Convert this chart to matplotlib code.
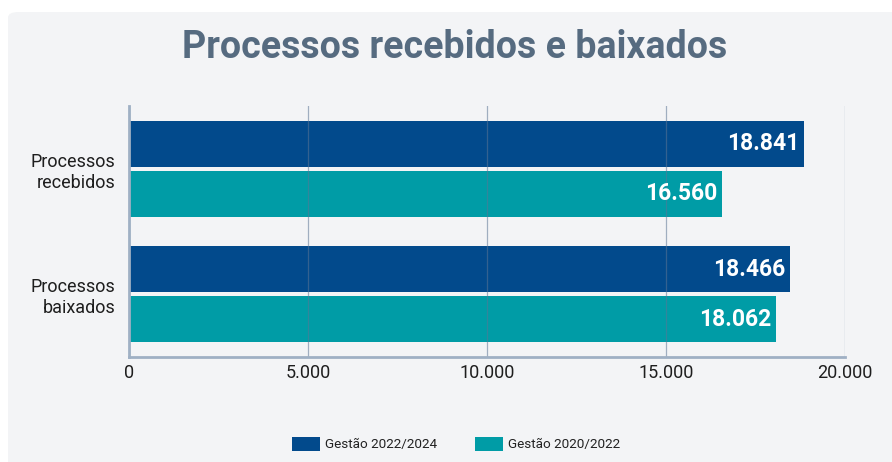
import matplotlib.pyplot as plt
from matplotlib.patches import FancyBboxPatch, Patch
import numpy as np

categories = ['Processos\nrecebidos', 'Processos\nbaixados']
gestao_2022_2024 = [18841, 18466]
gestao_2020_2022 = [16560, 18062]
series_names = ['Gestão 2022/2024', 'Gestão 2020/2022']
xticks = [0, 5000, 10000, 15000, 20000]

dark_blue = '#024a8c'
teal = '#009ca6'
panel = '#f3f4f6'

plt.rcParams['font.family'] = ['Roboto', 'DejaVu Sans']

fig = plt.figure(figsize=(8.92, 4.62), dpi=100)
fig.patch.set_facecolor('white')

# light grey card behind everything
card = FancyBboxPatch((8 / 892, -0.1), 1.2, (450 / 462) + 0.1,
                      boxstyle='round,pad=0,rounding_size=0.012',
                      transform=fig.transFigure, facecolor=panel,
                      edgecolor='none', zorder=-10)
fig.patches.append(card)

ax = fig.add_axes([129 / 892, 1 - 357 / 462, (845 - 129) / 892, (357 - 106) / 462])
ax.set_facecolor(panel)

y = np.arange(len(categories))
h = 0.367
ax.barh(y - 0.2, gestao_2022_2024, height=h, color=dark_blue, zorder=2)
ax.barh(y + 0.2, gestao_2020_2022, height=h, color=teal, zorder=2)

def fmt(v):
    return f'{v:,}'.replace(',', '.')

for vals, off in [(gestao_2022_2024, -0.2), (gestao_2020_2022, 0.2)]:
    for i, v in enumerate(vals):
        ax.text(v - 120, i + off, fmt(v), ha='right', va='center',
                color='white', fontsize=16.5, fontweight='bold', zorder=4)

ax.set_xlim(0, 20000)
ax.set_ylim(1.5, -0.5)
ax.set_xticks(xticks)
ax.set_xticklabels([fmt(t) for t in xticks], fontsize=13, color='#1e1e1e')
ax.set_yticks(y)
ax.set_yticklabels(categories, fontsize=13, color='#1e1e1e', linespacing=1.2)
ax.tick_params(length=0, pad=5)
ax.tick_params(axis='y', pad=10)

ax.grid(axis='x', color='#5d7594', linewidth=0.9, alpha=0.55, zorder=3)
ax.set_axisbelow(False)
for s in ['top', 'right']:
    ax.spines[s].set_visible(False)
for s in ['left', 'bottom']:
    ax.spines[s].set_color('#9fb0c4')
    ax.spines[s].set_linewidth(2)
    ax.spines[s].set_zorder(3)

fig.text(455 / 892, 1 - 47 / 462, 'Processos recebidos e baixados', ha='center',
         va='center', fontsize=27, fontweight='bold', color='#566b80')

handles = [Patch(facecolor=dark_blue), Patch(facecolor=teal)]
leg = fig.legend(handles, series_names, loc='center', ncol=2,
                 bbox_to_anchor=(456 / 892, 1 - 444 / 462), frameon=False,
                 fontsize=9.7, handlelength=2.07, handleheight=1.33,
                 columnspacing=2.8, handletextpad=0.4)
for t in leg.get_texts():
    t.set_color('#222222')

fig.savefig('out.png', dpi=100, facecolor=fig.get_facecolor())
